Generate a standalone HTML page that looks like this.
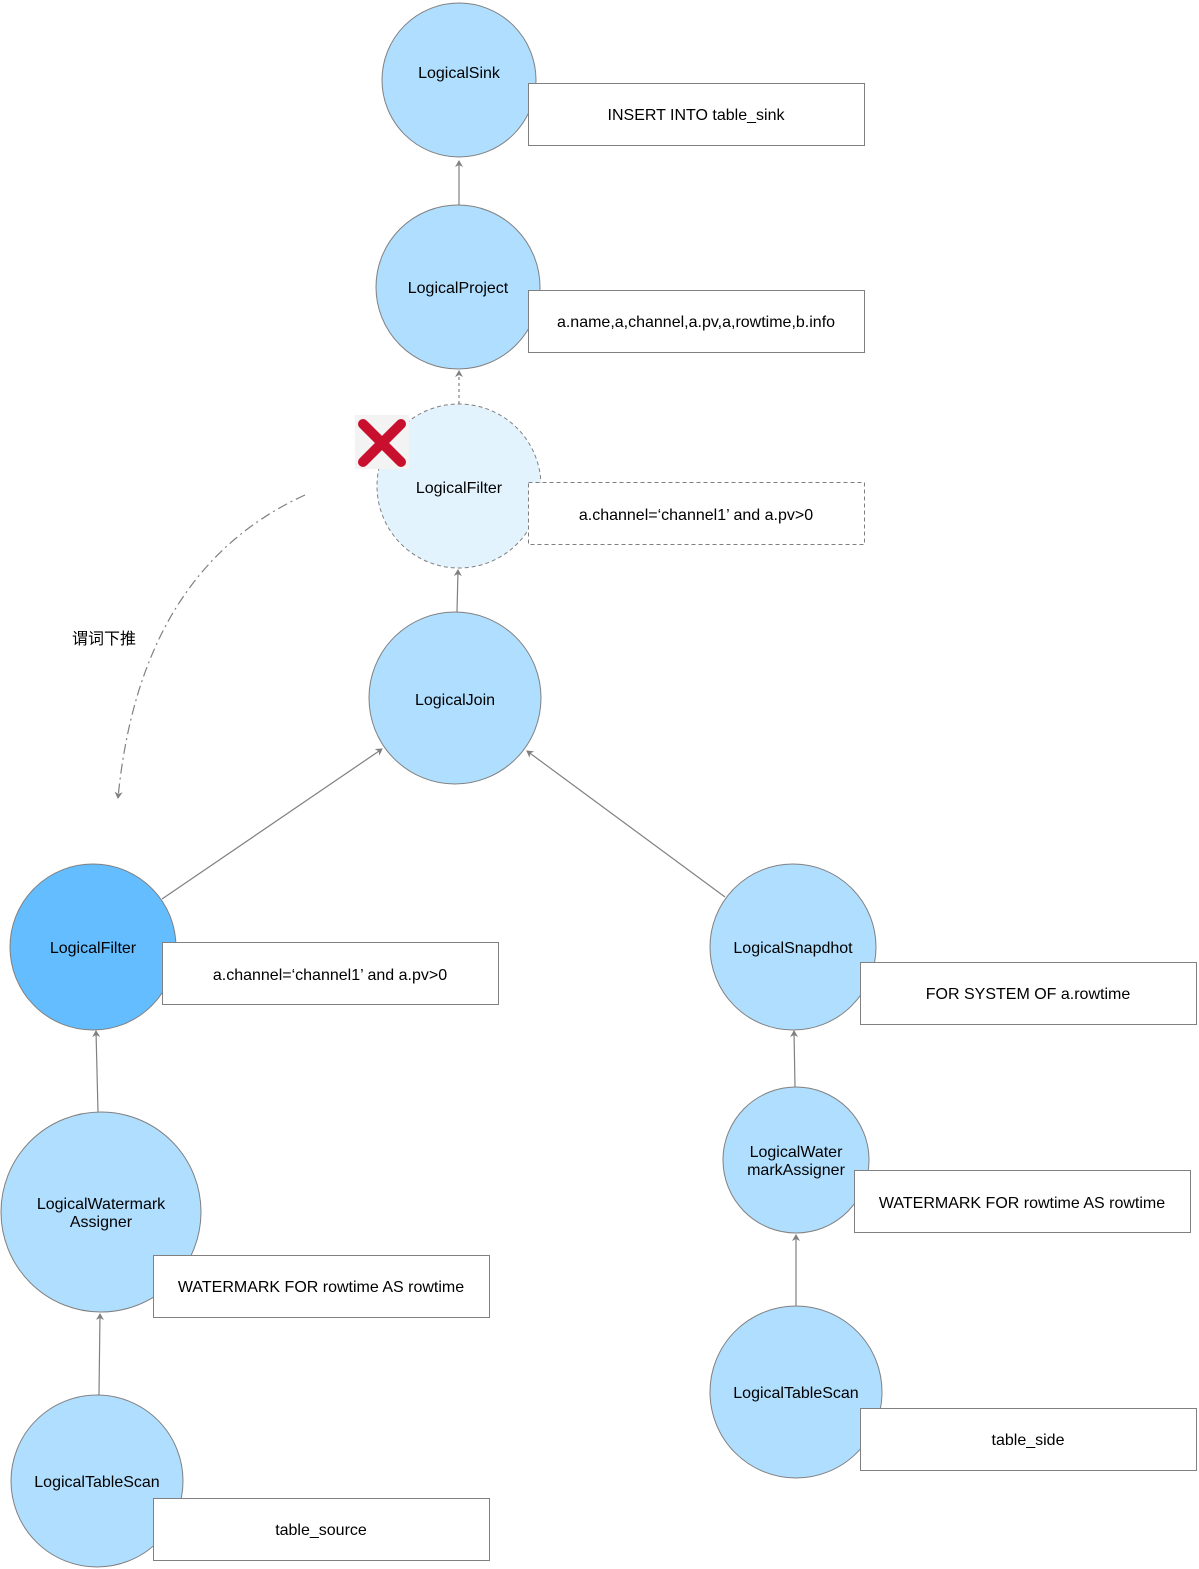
<!DOCTYPE html>
<html><head><meta charset="utf-8"><style>body{margin:0;background:#fff}svg{display:block}text{font-family:"Liberation Sans","Noto Sans CJK SC",sans-serif;font-size:16px;fill:#000}</style></head><body>
<svg width="1199" height="1569" viewBox="0 0 1199 1569">
<defs><marker id="a" markerWidth="8" markerHeight="8" refX="6" refY="4" orient="auto" markerUnits="userSpaceOnUse"><path d="M0,0 L7,4 L0,8 L2,4z" fill="#808080"/></marker></defs>
<g stroke="#808080" stroke-width="1.2" fill="none">
<line x1="459" y1="205" x2="459" y2="161" marker-end="url(#a)"/>
<line x1="459" y1="404" x2="459" y2="371" stroke-dasharray="3,3" marker-end="url(#a)"/>
<line x1="457" y1="612" x2="458" y2="570" marker-end="url(#a)"/>
<line x1="162" y1="899" x2="382" y2="749" marker-end="url(#a)"/>
<line x1="725" y1="897" x2="527" y2="751" marker-end="url(#a)"/>
<line x1="98" y1="1112" x2="96" y2="1031" marker-end="url(#a)"/>
<line x1="99" y1="1395" x2="100" y2="1314" marker-end="url(#a)"/>
<line x1="795" y1="1087" x2="794" y2="1031" marker-end="url(#a)"/>
<line x1="796" y1="1306" x2="796" y2="1235" marker-end="url(#a)"/>
<path d="M305,495 Q140,570 118,798" stroke-dasharray="10,4,2,4" marker-end="url(#a)"/>
</g>
<g stroke="#808080" stroke-width="1" fill="#B0DEFF">
<circle cx="459" cy="80" r="77"/>
<circle cx="458" cy="287" r="82"/>
<circle cx="459" cy="486" r="82" fill="#E3F3FE" stroke-dasharray="4,3"/>
<circle cx="455" cy="698" r="86"/>
<circle cx="93" cy="947" r="83" fill="#63BDFF"/>
<circle cx="793" cy="947" r="83"/>
<circle cx="101" cy="1212" r="100"/>
<circle cx="796" cy="1160" r="73"/>
<circle cx="97" cy="1481" r="86"/>
<circle cx="796" cy="1392" r="86"/>
</g>
<g stroke="#808080" stroke-width="1" fill="#fff">
<rect x="528.5" y="83.5" width="336" height="62"/>
<rect x="528.5" y="290.5" width="336" height="62"/>
<rect x="528.5" y="482.5" width="336" height="62" stroke-dasharray="4,3"/>
<rect x="162.5" y="942.5" width="336" height="62"/>
<rect x="860.5" y="962.5" width="336" height="62"/>
<rect x="854.5" y="1170.5" width="336" height="62"/>
<rect x="153.5" y="1255.5" width="336" height="62"/>
<rect x="860.5" y="1408.5" width="336" height="62"/>
<rect x="153.5" y="1498.5" width="336" height="62"/>
</g>
<rect x="355" y="415" width="54" height="54" fill="#f3f3f3"/>
<g stroke="#C8102E" stroke-width="10" stroke-linecap="round"><line x1="363" y1="424" x2="401" y2="462"/><line x1="401" y1="424" x2="363" y2="462"/></g>
<g text-anchor="middle">
<text x="459" y="78">LogicalSink</text>
<text x="458" y="293">LogicalProject</text>
<text x="459" y="493">LogicalFilter</text>
<text x="455" y="705">LogicalJoin</text>
<text x="93" y="953">LogicalFilter</text>
<text x="793" y="953">LogicalSnapdhot</text>
<text x="101" y="1209">LogicalWatermark</text>
<text x="101" y="1227">Assigner</text>
<text x="796" y="1157">LogicalWater</text>
<text x="796" y="1175">markAssigner</text>
<text x="97" y="1487">LogicalTableScan</text>
<text x="796" y="1398">LogicalTableScan</text>
<text x="696" y="120">INSERT INTO table_sink</text>
<text x="696" y="327">a.name,a,channel,a.pv,a,rowtime,b.info</text>
<text x="696" y="520">a.channel=‘channel1’ and a.pv&gt;0</text>
<text x="330" y="980">a.channel=‘channel1’ and a.pv&gt;0</text>
<text x="1028" y="999">FOR SYSTEM OF a.rowtime</text>
<text x="1022" y="1208">WATERMARK FOR rowtime AS rowtime</text>
<text x="321" y="1292">WATERMARK FOR rowtime AS rowtime</text>
<text x="1028" y="1445">table_side</text>
<text x="321" y="1535">table_source</text>
</g>
<text x="72" y="644" font-size="15">谓词下推</text>
</svg>
</body></html>
